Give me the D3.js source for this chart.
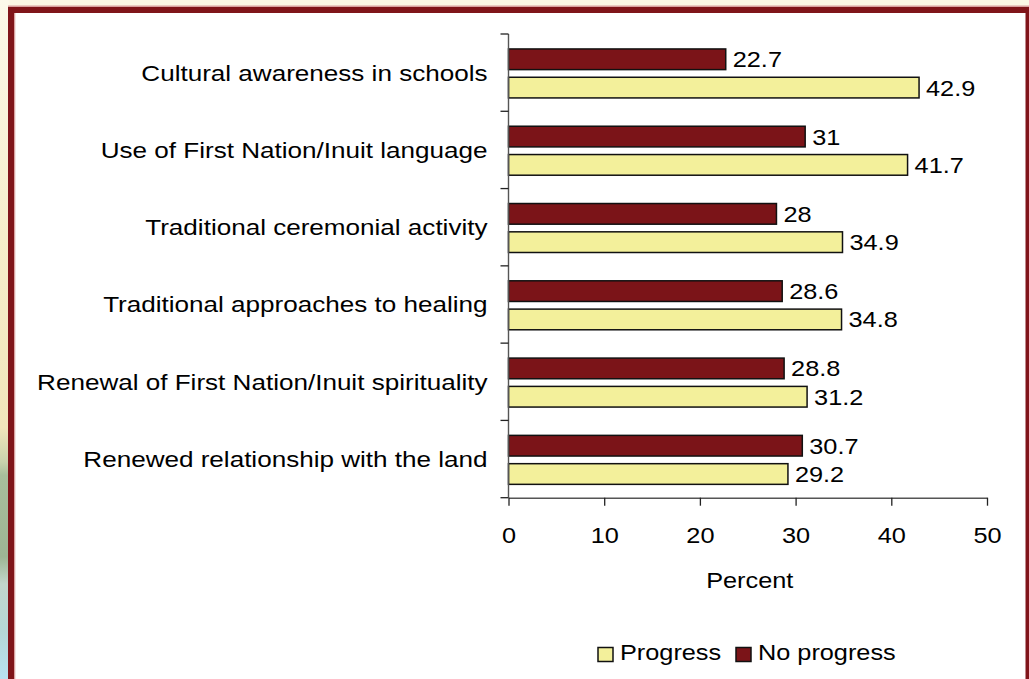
<!DOCTYPE html>
<html>
<head>
<meta charset="utf-8">
<script src="https://cdn.jsdelivr.net/npm/d3@7"></script>
<style>
  html, body { margin: 0; padding: 0; overflow: hidden; background: #fbf8e6; }
  svg { display: block; }
  text { font-family: "Liberation Sans", Arial, Helvetica, sans-serif; fill: #000; }
</style>
</head>
<body>
<svg id="chart" width="1029" height="679"></svg>
<script>
// Survey categories, top to bottom
const categories = [
  "Cultural awareness in schools",
  "Use of First Nation/Inuit language",
  "Traditional ceremonial activity",
  "Traditional approaches to healing",
  "Renewal of First Nation/Inuit spirituality",
  "Renewed relationship with the land"
];
// Percent of respondents per category
const progressValues   = [42.9, 41.7, 34.9, 34.8, 31.2, 29.2];
const noProgressValues = [22.7, 31, 28, 28.6, 28.8, 30.7];
const seriesNames = ["No progress", "Progress"];   // order inside each group
const legendNames = ["Progress", "No progress"];  // order in the legend
const xTicks = [0, 10, 20, 30, 40, 50];
const xDomain = [0, 50];
const axisTitle = "Percent";

const W = 1029, H = 679;
const FONT = 22, SX = 1.15, SX_CAT = 1.185;   // label size and horizontal stretch
const colors = { "Progress": "#f3f09b", "No progress": "#7b1418" };
const values = { "Progress": progressValues, "No progress": noProgressValues };

const svg = d3.select("#chart");

// ---- page backdrop and frame ----
const defs = svg.append("defs");
const grad = defs.append("linearGradient").attr("id", "edge")
  .attr("x1", 0).attr("y1", 0).attr("x2", 0).attr("y2", 1);
[[0, "#fcf9ea"], [0.35, "#f6eecb"], [0.63, "#f1e6bb"], [0.68, "#c9d3ad"], [0.70, "#a8bf9c"],
 [0.82, "#9db594"], [0.86, "#c2d6cc"], [0.93, "#b5d8d6"], [1, "#b8e2f2"]]
  .forEach(([o, c]) => grad.append("stop").attr("offset", o).attr("stop-color", c));

svg.append("rect").attr("width", W).attr("height", H).attr("fill", "#fbf8e6");
svg.append("rect").attr("x", 0).attr("y", 0).attr("width", 9).attr("height", H).attr("fill", "url(#edge)");
// thin light line above the frame
svg.append("rect").attr("x", 8).attr("y", 5.5).attr("width", W - 8).attr("height", 1.5).attr("fill", "#d9a2a0");
// red frame
svg.append("rect").attr("x", 8).attr("y", 7).attr("width", W - 8).attr("height", H).attr("fill", "#80151a");
// white panel
svg.append("rect").attr("x", 14).attr("y", 13).attr("width", 1011.5).attr("height", H).attr("fill", "#ffffff");
// light inner edge on the left
svg.append("rect").attr("x", 14).attr("y", 13).attr("width", 1.3).attr("height", H).attr("fill", "#d9a2a0");

// ---- scales ----
const x = d3.scaleLinear().domain(xDomain).range([508.5, 987]);
const y = d3.scaleBand().domain(categories).range([34, 497.7]).paddingInner(0).paddingOuter(0);
const ySub = d3.scaleBand().domain(seriesNames).range([0, y.bandwidth()])
  .paddingInner(0.27).paddingOuter(0.5);

const g = svg.append("g");

// ---- bars ----
const groups = g.selectAll("g.cat").data(categories).join("g")
  .attr("class", "cat")
  .attr("transform", d => `translate(0,${y(d) + 0.8})`);

groups.each(function(cat, i) {
  const grp = d3.select(this);
  seriesNames.forEach(s => {
    const v = values[s][i];
    grp.append("rect")
      .attr("x", x(0))
      .attr("y", ySub(s))
      .attr("width", x(v) - x(0))
      .attr("height", ySub.bandwidth())
      .attr("fill", colors[s])
      .attr("stroke", "#111")
      .attr("stroke-width", 1.5);
    grp.append("text")
      .attr("transform", `translate(${x(v) + 7},${ySub(s) + ySub.bandwidth() / 2}) scale(${SX},1)`)
      .attr("dy", "0.36em")
      .attr("font-size", FONT)
      .text(v);
  });
});

// ---- x axis ----
const xAxis = g.append("g")
  .attr("transform", `translate(0,${y.range()[1]})`)
  .call(d3.axisBottom(x).tickValues(xTicks).tickSize(8).tickSizeOuter(0).tickFormat(d3.format("d")));
xAxis.select(".domain").attr("stroke", "#555").attr("stroke-width", 1.4);
xAxis.selectAll(".tick line").attr("stroke", "#222").attr("stroke-width", 1.3);
xAxis.selectAll(".tick text")
  .attr("y", 29.5).attr("dy", "0.71em")
  .attr("font-size", FONT)
  .attr("font-family", null)
  .attr("fill", "#000")
  .attr("transform", `scale(${SX},1)`);

// ---- y axis: line and category-boundary ticks ----
const yEdges = categories.map(c => y(c)).concat([y.range()[1]]);
g.append("line")
  .attr("x1", x(0)).attr("x2", x(0))
  .attr("y1", y.range()[0]).attr("y2", y.range()[1])
  .attr("stroke", "#555").attr("stroke-width", 1.4);
g.selectAll("line.ytick").data(yEdges).join("line")
  .attr("class", "ytick")
  .attr("x1", x(0) - 8).attr("x2", x(0))
  .attr("y1", d => d).attr("y2", d => d)
  .attr("stroke", "#222").attr("stroke-width", 1.3);

// category labels
g.selectAll("text.cat").data(categories).join("text")
  .attr("class", "cat")
  .attr("transform", d => `translate(${x(0) - 21},${y(d) + y.bandwidth() / 2}) scale(${SX_CAT},1)`)
  .attr("text-anchor", "end")
  .attr("dy", "0.36em")
  .attr("font-size", FONT)
  .text(d => d);

// axis title
g.append("text")
  .attr("transform", `translate(${(x.range()[0] + x.range()[1]) / 2 + 2},588) scale(${SX},1)`)
  .attr("text-anchor", "middle")
  .attr("font-size", FONT)
  .text(axisTitle);

// ---- legend ----
const legendX = { "Progress": 598, "No progress": 736 };
const legend = g.selectAll("g.leg").data(legendNames).join("g")
  .attr("class", "leg")
  .attr("transform", d => `translate(${legendX[d]},647.5)`);
legend.append("rect")
  .attr("width", 15).attr("height", 14)
  .attr("fill", d => colors[d])
  .attr("stroke", "#111").attr("stroke-width", 1.5);
legend.append("text")
  .attr("transform", `translate(22,12) scale(${SX},1)`)
  .attr("font-size", FONT)
  .text(d => d);
</script>
</body>
</html>
